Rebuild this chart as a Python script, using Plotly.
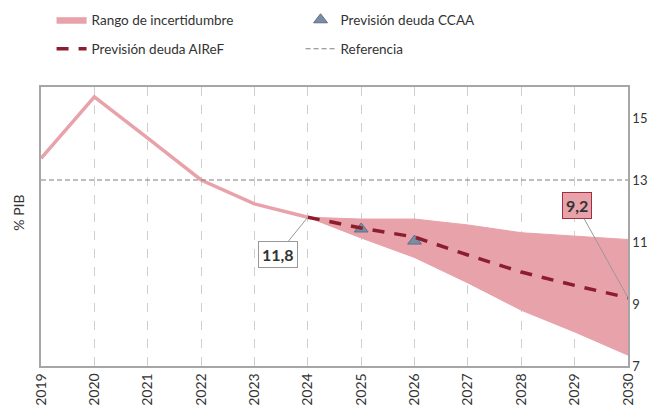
import plotly.graph_objects as go

years_hist = [2019, 2020, 2021, 2022, 2023, 2024]
debt_hist = [13.7, 15.68, 14.35, 13.0, 12.23, 11.8]

years_fc = [2024, 2025, 2026, 2027, 2028, 2029, 2030]
band_upper = [11.8, 11.74, 11.74, 11.55, 11.3, 11.2, 11.08]
band_lower = [11.8, 11.13, 10.5, 9.68, 8.8, 8.1, 7.35]
airef = [11.8, 11.45, 11.16, 10.58, 10.03, 9.6, 9.2]

years_ccaa = [2025, 2026]
ccaa = [11.42, 11.03]

ref_years = [2019, 2030]
ref_value = [13, 13]

year_ticks = list(range(2019, 2031))
y_ticks = [7, 9, 11, 13, 15]

PINK = "#E8A2AA"
DARKRED = "#8C1D2E"
SLATE = "#7A8CA6"
TXT = "#333333"
FONT = "Lato"

# page body has an 8px default margin, so the figure is sized to fill the window
W, H = 651, 404

fig = go.Figure()

fig.add_trace(go.Scatter(x=years_fc, y=band_lower, mode="lines",
                         line=dict(color=PINK, width=1), showlegend=False, hoverinfo="skip"))
fig.add_trace(go.Scatter(x=years_fc, y=band_upper, mode="lines", fill="tonexty",
                         fillcolor=PINK, line=dict(color=PINK, width=1),
                         name="Rango de incertidumbre", legend="legend", legendrank=1))
fig.add_trace(go.Scatter(x=years_hist, y=debt_hist, mode="lines",
                         line=dict(color=PINK, width=3.5), showlegend=False))
fig.add_trace(go.Scatter(x=ref_years, y=ref_value, mode="lines",
                         line=dict(color="#7F7F7F", width=1, dash="5px,3px"),
                         name="Referencia", legend="legend2", legendrank=2))
fig.add_trace(go.Scatter(x=years_ccaa, y=ccaa, mode="markers",
                         marker=dict(symbol="triangle-up", size=12, color=SLATE,
                                     line=dict(color="#5E6E85", width=1)),
                         name="Previsión deuda CCAA", legend="legend", legendrank=2))
fig.add_trace(go.Scatter(x=years_fc, y=airef, mode="lines",
                         line=dict(color=DARKRED, width=3.5, dash="12px,10px"),
                         name="Previsión deuda AIReF", legend="legend2", legendrank=1))

fig.add_annotation(x=years_hist[-1], y=debt_hist[-1], text="<b>11,8</b>",
                   showarrow=True, arrowhead=0, arrowcolor="#999999", arrowwidth=1,
                   ax=-30, ay=37, bgcolor="white", bordercolor="#999999", borderwidth=1,
                   borderpad=3, font=dict(family=FONT, size=16, color=TXT))
fig.add_annotation(x=years_fc[-1], y=airef[-1], text="<b>9,2</b>",
                   showarrow=True, arrowhead=0, arrowcolor="#999999", arrowwidth=1,
                   ax=-51, ay=-92, bgcolor=PINK, bordercolor="#A0303F", borderwidth=1,
                   borderpad=3, font=dict(family=FONT, size=16, color=TXT))
fig.add_annotation(x=-0.039, y=0.55, xref="paper", yref="paper", text="% PIB",
                   textangle=-90, showarrow=False, xanchor="center", yanchor="middle",
                   font=dict(family=FONT, size=14, color=TXT))

leg_common = dict(orientation="h", xanchor="left", yanchor="middle", yref="container",
                  entrywidth=204, entrywidthmode="pixels", bgcolor="rgba(0,0,0,0)",
                  traceorder="normal", font=dict(family=FONT, size=13.5, color=TXT))

fig.update_layout(
    width=W, height=H,
    margin=dict(l=33, r=31, t=79, b=46, autoexpand=False),
    paper_bgcolor="white", plot_bgcolor="white",
    font=dict(family=FONT, size=14, color=TXT),
    legend=dict(leg_common, x=0.018, y=1 - 12 / H),
    legend2=dict(leg_common, x=0.018, y=1 - 41 / H),
    xaxis=dict(range=[2019, 2030], tickvals=year_ticks, ticktext=[str(y) for y in year_ticks],
               tickangle=-90, showgrid=True, gridcolor="#CFCFCF", griddash="dash", gridwidth=1,
               showline=True, linecolor="#A6A6A6", linewidth=1.5, mirror=True, automargin=False,
               ticks="", zeroline=False, tickfont=dict(family=FONT, size=14, color=TXT)),
    yaxis=dict(range=[7, 16], side="right", tickvals=y_ticks, showgrid=False, automargin=False,
               showline=True, linecolor="#A6A6A6", linewidth=1.5, mirror=True,
               ticks="", zeroline=False, tickfont=dict(family=FONT, size=13, color=TXT)),
)

fig.write_html("out.html")
